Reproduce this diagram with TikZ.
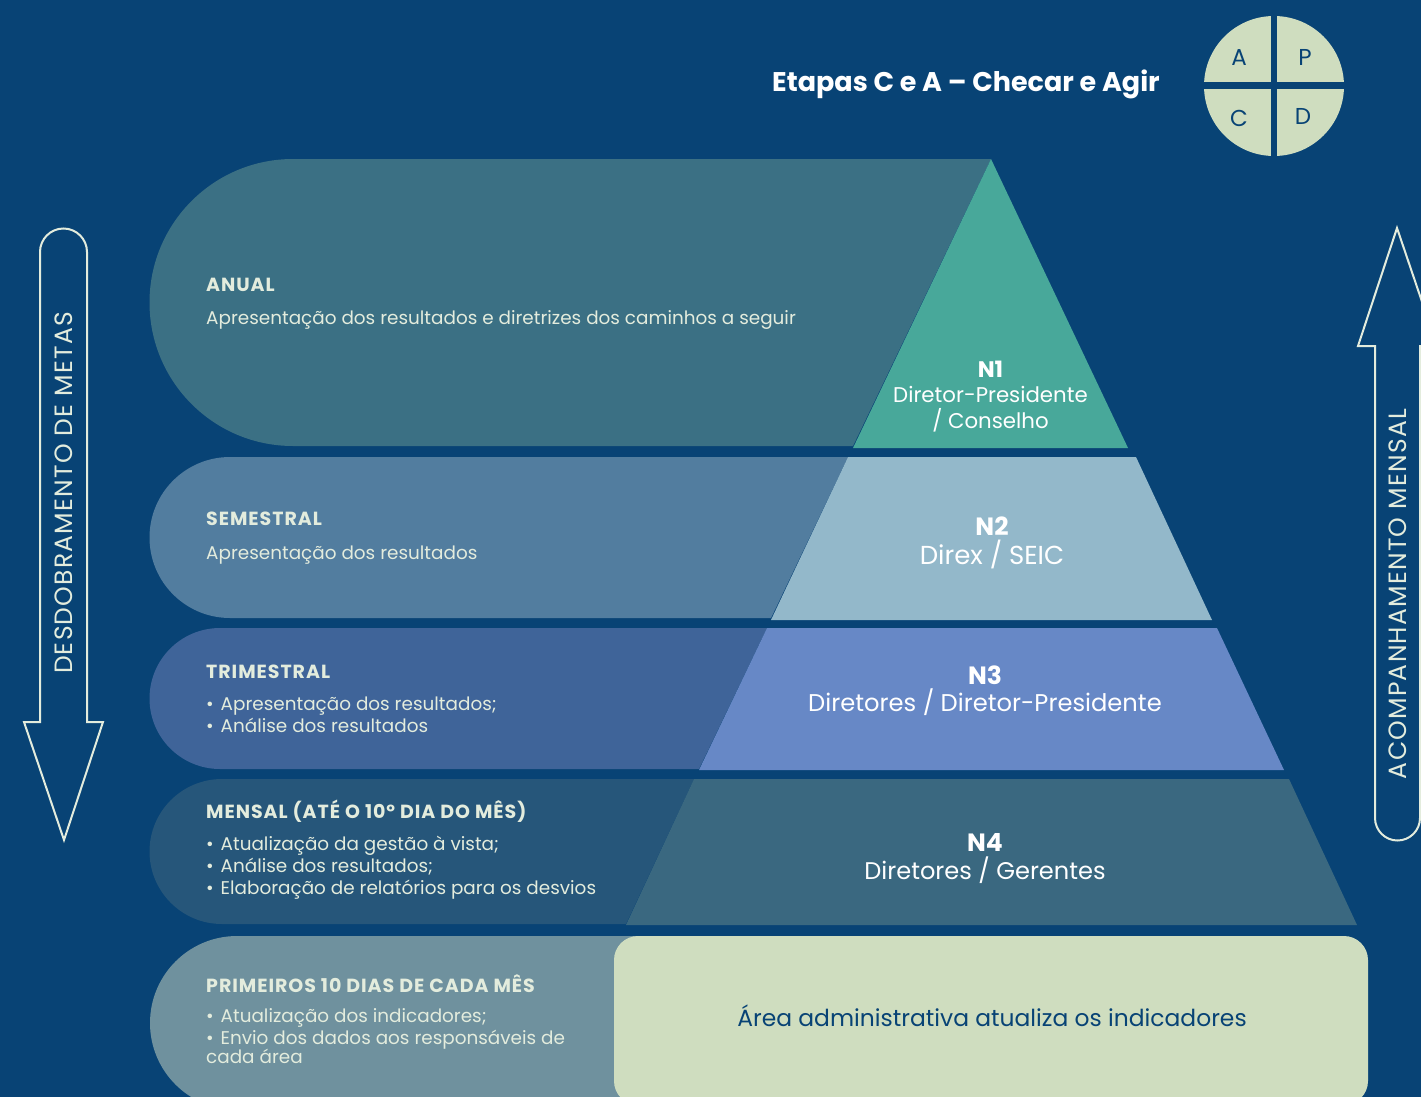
\documentclass[tikz,border=0pt]{standalone}
\usepackage{fontspec}
\setmainfont{Poppins}
\definecolor{fundo}{HTML}{084375}
\definecolor{creme}{HTML}{CFDDBF}
\definecolor{letra}{HTML}{E3ECDD}
\definecolor{faixaa}{HTML}{3B7084}
\definecolor{faixab}{HTML}{527D9F}
\definecolor{faixac}{HTML}{3F6499}
\definecolor{faixad}{HTML}{26567A}
\definecolor{faixae}{HTML}{6F919E}
\definecolor{nivela}{HTML}{48A89A}
\definecolor{nivelb}{HTML}{93B8CA}
\definecolor{nivelc}{HTML}{6788C6}
\definecolor{niveld}{HTML}{3A6880}
\newcommand{\marca}{•\kern2pt\ }
\begin{document}
\begin{tikzpicture}
[x=1pt,y=-1pt,inner sep=0pt,
titulo/.style={anchor=base west,text=letra,font=\fontsize{19}{19}\selectfont\bfseries\addfontfeature{LetterSpace=5}},
texto/.style={anchor=base west,text=letra,font=\fontsize{18.4}{18.4}\selectfont},
nivel/.style={anchor=base,text=white,font=\fontsize{#1}{#1}\selectfont},
nivelt/.style={anchor=base,text=white,font=\fontsize{#1}{#1}\selectfont\bfseries},
letrapdca/.style={text=fundo,font=\fontsize{23}{23}\selectfont},
seta/.style={draw=letra,line width=2pt,line join=miter},
vertical/.style={anchor=base,rotate=90,text=letra,font=\fontsize{25}{25}\selectfont\addfontfeature{LetterSpace=5}},
]
\useasboundingbox (0,0) rectangle (1421,1097);
\fill[fundo] (0,0) rectangle (1421,1097);

\begin{scope}
\clip (0,0) rectangle (1421,1097);
\fill[faixaa] (293,159) -- (991,159) -- (853,446) -- (293,446) arc[start angle=90,end angle=270,radius=143.5];
\fill[faixab] (230,457) -- (848,457) -- (771,618) -- (230,618) arc[start angle=90,end angle=270,radius=80.5];
\fill[faixac] (220,628) -- (767,628) -- (699,769) -- (220,769) arc[start angle=90,end angle=270,radius=70.5];
\fill[faixad] (222,779) -- (694,779) -- (626,924) -- (222,924) arc[start angle=90,end angle=270,radius=72.5];
\fill[faixae] (237,936) -- (640,936) -- (640,1110) -- (237,1110) arc[start angle=90,end angle=270,radius=87];

\fill[nivela] (991,159) -- (1128,448) -- (853,448) -- cycle;
\fill[nivelb] (848,457) -- (1136,457) -- (1212,620) -- (771,620) -- cycle;
\fill[nivelc] (767,628) -- (1217,628) -- (1284,770) -- (699,770) -- cycle;
\fill[niveld] (694,779) -- (1289,779) -- (1357,925) -- (626,925) -- cycle;
\fill[creme,rounded corners=24pt] (614,936) rectangle (1368,1105);

\draw[seta] (40,722) -- (40,252) arc[start angle=180,end angle=360,radius=23.5] -- (87,722) -- (103,722) -- (64,840) -- (24,722) -- cycle;
\draw[seta] (1375,346) -- (1358,346) -- (1397,228) -- (1437,346) -- (1420,346) -- (1420,818) arc[start angle=0,end angle=180,radius=22.5] -- cycle;

\fill[creme] (1274,86) circle[radius=70];
\fill[fundo] (1270.7,10) rectangle (1277.3,160);
\fill[fundo] (1200,82.3) rectangle (1348,89.3);
\end{scope}

\node[anchor=base west,text=white,font=\fontsize{27}{27}\selectfont\bfseries] (etapas) at (772,92) {Etapas C e A – Checar e Agir};
\node[letrapdca] (a) at (1239,58) {A};
\node[letrapdca] (p) at (1305,57) {P};
\node[letrapdca] (c) at (1239,118) {C};
\node[letrapdca] (d) at (1303,116) {D};

\node[vertical] (desdobramento) at (72,493) {DESDOBRAMENTO DE METAS};
\node[vertical] (acompanhamento) at (1406,594) {ACOMPANHAMENTO MENSAL};

\node[titulo] (anual) at (206,291) {ANUAL};
\node[texto] (anualx) at (206,324) {Apresentação dos resultados e diretrizes dos caminhos a seguir};
\node[titulo] (semestral) at (206,525) {SEMESTRAL};
\node[texto] (semestralx) at (206,559) {Apresentação dos resultados};
\node[titulo] (trimestral) at (206,678) {TRIMESTRAL};
\node[texto] (trimestrala) at (206,710) {\marca Apresentação dos resultados;};
\node[texto] (trimestralb) at (206,732) {\marca Análise dos resultados};
\node[titulo] (mensal) at (206,818) {MENSAL (ATÉ O 10º DIA DO MÊS)};
\node[texto] (mensala) at (206,850) {\marca Atualização da gestão à vista;};
\node[texto] (mensalb) at (206,872) {\marca Análise dos resultados;};
\node[texto] (mensalc) at (206,894) {\marca Elaboração de relatórios para os desvios};
\node[titulo] (primeiros) at (206,992) {PRIMEIROS 10 DIAS DE CADA MÊS};
\node[texto] (primeirosa) at (206,1022) {\marca Atualização dos indicadores;};
\node[texto] (primeirosb) at (206,1044) {\marca Envio dos dados aos responsáveis de};
\node[texto] (primeirosc) at (206,1063) {cada área};

\node[nivelt=22.5] (na) at (990.5,377) {N1};
\node[nivel=21.3] (nax) at (990.5,402) {Diretor-Presidente};
\node[nivel=21.3] (nay) at (990.5,428) {/ Conselho};
\node[nivelt=25] (nb) at (992,535) {N2};
\node[nivel=26] (nbx) at (992,564) {Direx / SEIC};
\node[nivelt=25] (nc) at (985,684) {N3};
\node[nivel=24.2] (ncx) at (985,711) {Diretores / Diretor-Presidente};
\node[nivelt=25] (nd) at (985,851) {N4};
\node[nivel=24.1] (ndx) at (985,879) {Diretores / Gerentes};
\node[anchor=base,text=fundo,font=\fontsize{23.4}{23.4}\selectfont] (area) at (992,1026) {Área administrativa atualiza os indicadores};
\end{tikzpicture}
\end{document}
